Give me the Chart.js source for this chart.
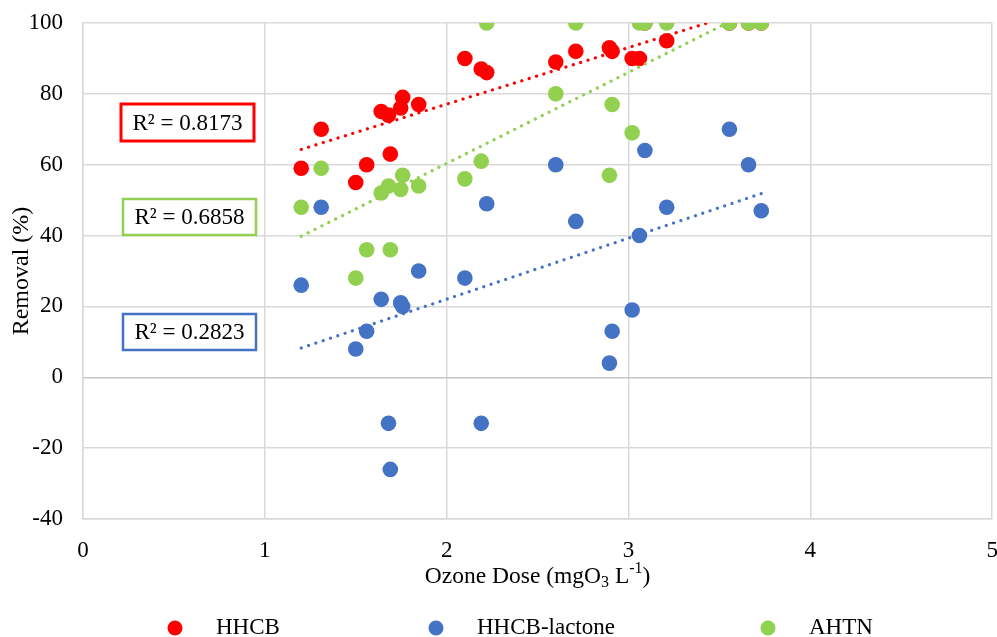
<!DOCTYPE html>
<html>
<head>
<meta charset="utf-8">
<script src="https://cdn.jsdelivr.net/npm/chart.js@4.4.1/dist/chart.umd.min.js"></script>
<style>
  html, body { margin: 0; padding: 0; background: #ffffff; overflow: hidden; }
  #wrap { width: 997px; height: 637px; overflow: hidden; }
  #chart { display: block; }
</style>
</head>
<body>
<div id="wrap"><canvas id="chart" width="1000" height="637"></canvas></div>
<script>
// Ozone dose applied in each run (mg O3 per litre)
const doses = [1.20, 1.31, 1.50, 1.56, 1.64, 1.68, 1.69, 1.747, 1.758, 1.846, 2.10, 2.19,
               2.22, 2.60, 2.71, 2.895, 2.91, 3.02, 3.06, 3.09, 3.21, 3.555, 3.66, 3.73];

// Removal (%) for each compound at the doses above
const hhcbRemoval    = [59, 70, 55, 60, 75, 74, 63, 76, 79, 77, 90, 87,
                        86, 89, 92, 93, 92, 90, 90, 100, 95, 100, 100, 100];
const lactoneRemoval = [26, 48, 8, 13, 22, -13, -26, 21, 20, 30, 28, -13,
                        49, 60, 44, 4, 13, 19, 40, 64, 48, 70, 60, 47];
const ahtnRemoval    = [48, 59, 28, 36, 52, 54, 36, 53, 57, 54, 56, 61,
                        100, 80, 100, 57, 77, 69, 100, 100, 100, 100, 100, 100];

const seriesNames = ['HHCB', 'HHCB-lactone', 'AHTN'];
const rSquaredText = ['R\u00B2 = 0.8173', 'R\u00B2 = 0.2823', 'R\u00B2 = 0.6858'];

// Axis ranges and tick step
const xTicks = { min: 0, max: 5, step: 1 };
const yTicks = { min: -40, max: 100, step: 20 };

const colors = ['#FF0000', '#4472C4', '#92D050'];
const FONT = "'Liberation Serif', 'Times New Roman', serif";

function toPoints(xs, ys) { return xs.map((x, i) => ({ x: x, y: ys[i] })); }

// Ordinary least-squares linear trend over the measured points
function linearTrend(xs, ys) {
  const n = xs.length;
  const mx = xs.reduce((a, b) => a + b, 0) / n;
  const my = ys.reduce((a, b) => a + b, 0) / n;
  let sxy = 0, sxx = 0;
  for (let i = 0; i < n; i++) { sxy += (xs[i] - mx) * (ys[i] - my); sxx += (xs[i] - mx) ** 2; }
  const slope = sxy / sxx;
  const icpt = my - slope * mx;
  const x0 = Math.min(...xs), x1 = Math.max(...xs);
  return [{ x: x0, y: icpt + slope * x0 }, { x: x1, y: icpt + slope * x1 }];
}

const allSeries = [hhcbRemoval, lactoneRemoval, ahtnRemoval];

const scatterSets = allSeries.map((vals, i) => ({
  type: 'scatter',
  label: seriesNames[i],
  data: toPoints(doses, vals),
  backgroundColor: colors[i],
  borderWidth: 0,
  pointRadius: 7.8,
  pointHoverRadius: 7.8,
  order: 3 - i
}));

const trendSets = allSeries.map((vals, i) => ({
  type: 'line',
  label: seriesNames[i] + ' trend',
  data: linearTrend(doses, vals),
  borderColor: colors[i],
  borderWidth: 3.2,
  borderDash: [0.1, 7.6],
  borderCapStyle: 'round',
  pointRadius: 0,
  fill: false,
  order: 0
}));

// Boxed R² annotations next to each trendline
const rBoxes = [
  { text: rSquaredText[0], color: '#FF0000', x: 121, y: 104, w: 133, h: 37, lw: 3 },
  { text: rSquaredText[2], color: '#92D050', x: 123, y: 199, w: 133, h: 36, lw: 2.5 },
  { text: rSquaredText[1], color: '#4472C4', x: 123, y: 314, w: 133, h: 36, lw: 2.5 }
];

const overlay = {
  id: 'overlay',
  afterDraw(chart) {
    const ctx = chart.ctx;
    const area = chart.chartArea;
    ctx.save();
    ctx.fillStyle = '#000000';

    // Y axis title
    ctx.save();
    ctx.translate(22, (area.top + area.bottom) / 2);
    ctx.rotate(-Math.PI / 2);
    ctx.font = '24px ' + FONT;
    ctx.textAlign = 'center';
    ctx.textBaseline = 'middle';
    ctx.fillText('Removal (%)', 0, 0);
    ctx.restore();

    // X axis title with subscript / superscript
    const big = '23.5px ' + FONT, small = '16px ' + FONT;
    const parts = [
      { t: 'Ozone Dose (mgO', f: big, dy: 0 },
      { t: '3', f: small, dy: 6 },
      { t: ' L', f: big, dy: 0 },
      { t: '-1', f: small, dy: -8 },
      { t: ')', f: big, dy: 0 }
    ];
    let total = 0;
    parts.forEach(p => { ctx.font = p.f; p.w = ctx.measureText(p.t).width; total += p.w; });
    let cx = (area.left + area.right) / 2 - total / 2;
    const ty = 577;
    ctx.textAlign = 'left';
    ctx.textBaseline = 'middle';
    parts.forEach(p => { ctx.font = p.f; ctx.fillText(p.t, cx, ty + p.dy); cx += p.w; });

    // R² boxes
    rBoxes.forEach(b => {
      ctx.fillStyle = '#ffffff';
      ctx.fillRect(b.x, b.y, b.w, b.h);
      ctx.strokeStyle = b.color;
      ctx.lineWidth = b.lw;
      ctx.strokeRect(b.x, b.y, b.w, b.h);
      ctx.fillStyle = '#000000';
      ctx.font = '23px ' + FONT;
      ctx.textAlign = 'center';
      ctx.textBaseline = 'middle';
      ctx.fillText(b.text, b.x + b.w / 2, b.y + b.h / 2 + 1);
    });

    // Legend
    const legendX = [175, 436, 768];
    const legendY = 628;
    chart.data.datasets.filter(d => d.type === 'scatter').forEach((d, i) => {
      ctx.fillStyle = d.backgroundColor;
      ctx.beginPath();
      ctx.arc(legendX[i], legendY, 7.5, 0, Math.PI * 2);
      ctx.fill();
      ctx.fillStyle = '#000000';
      ctx.font = '23px ' + FONT;
      ctx.textAlign = 'left';
      ctx.textBaseline = 'middle';
      ctx.fillText(d.label, legendX[i] + 41, legendY);
    });
    ctx.restore();
  }
};

new Chart(document.getElementById('chart'), {
  type: 'scatter',
  data: { datasets: [...scatterSets, ...trendSets] },
  options: {
    responsive: false,
    animation: false,
    layout: { padding: { left: 0, right: 2, top: 23, bottom: 48 } },
    plugins: { legend: { display: false }, tooltip: { enabled: false } },
    scales: {
      x: {
        type: 'linear',
        min: xTicks.min, max: xTicks.max,
        ticks: { stepSize: xTicks.step, color: '#000000', padding: 18, font: { family: FONT, size: 23 } },
        grid: { color: '#d9d9d9', lineWidth: 1.5, drawTicks: false },
        border: { display: true, color: '#d9d9d9', width: 1.5 },
        afterFit(scale) {
          scale.height = 70;
          scale.paddingLeft = 0;
          scale.paddingRight = 0;
        }
      },
      y: {
        type: 'linear',
        min: yTicks.min, max: yTicks.max,
        ticks: { stepSize: yTicks.step, color: '#000000', padding: 20, font: { family: FONT, size: 23 } },
        grid: {
          color: ctx => (ctx.tick && ctx.tick.value === 0 ? '#c6c6c6' : '#d9d9d9'),
          lineWidth: 1.5, drawTicks: false
        },
        border: { display: true, color: '#d9d9d9', width: 1.5 },
        afterFit(scale) {
          scale.width = 83;
          scale.paddingTop = 0;
          scale.paddingBottom = 0;
        }
      }
    }
  },
  plugins: [overlay]
});
</script>
</body>
</html>
